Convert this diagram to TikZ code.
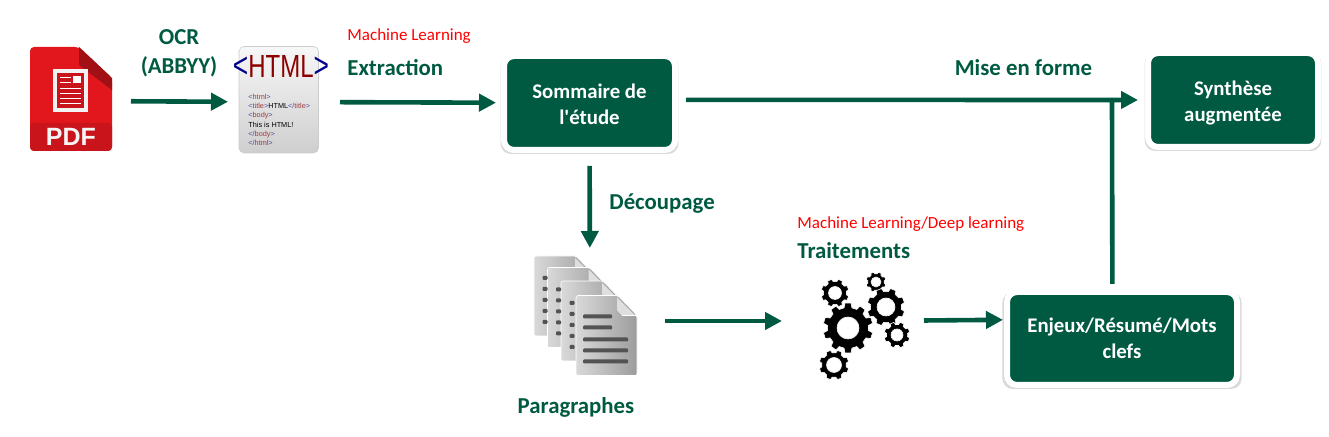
\documentclass[tikz,border=0pt]{standalone}
\usepackage{fontspec}
\setmainfont{Carlito}
\newfontfamily\droit{Carlito}
\newfontfamily\arialfont{Liberation Sans}
\usetikzlibrary{arrows.meta,shadows}
\definecolor{vert}{HTML}{005A41}
\definecolor{rougepdf}{HTML}{E2171D}
\definecolor{rougesombre}{HTML}{C8141A}
\definecolor{tagbleu}{HTML}{4A4AA8}
\definecolor{tagrouge}{HTML}{A03A3A}
\newcommand{\balise}[1]{{\color{tagbleu}<}{\color{tagrouge}#1}{\color{tagbleu}>}}
\newcommand{\fin}[1]{{\color{tagbleu}</}{\color{tagrouge}#1}{\color{tagbleu}>}}

\begin{document}
\begin{tikzpicture}
[x=.5pt,y=-.5pt]
\tikzset{boite/.style={rectangle,rounded corners=5pt,fill=vert,draw=white,line width=3pt,text=white,
		font=\fontsize{10.4}{13}\selectfont\bfseries,align=center,
		general shadow={shadow xshift=0pt,shadow yshift=-1pt,shadow scale=1.04,opacity=.15,fill=black}}}
\tikzset{icone/.style={rectangle,inner sep=0pt,outer sep=0pt}}
\tikzset{titre/.style={text=vert,inner sep=0pt,align=center,font=\fontsize{11.4}{14.5}\selectfont\bfseries}}
\tikzset{rouge/.style={text=red,inner sep=0pt,font=\fontsize{8.5}{10}\selectfont}}
\tikzset{fleche/.style={draw=vert,line width=2.3pt,-{Triangle[length=8.5pt,width=8.5pt]}}}
\tikzset{feuille/.style={left color=gray!30,right color=gray!78,draw=white,line width=.3pt,rounded corners=1pt}}
\useasboundingbox (0,0) rectangle (1329,437);

\node [icone,minimum width=41pt,minimum height=54pt] (pdf) at (71,101) {};
\node [icone,minimum width=40pt,minimum height=54pt] (html) at (279,102) {};
\node [icone,minimum width=47pt,minimum height=65pt] (pages) at (590,321) {};
\node [icone,minimum width=48pt,minimum height=50pt] (gears) at (863,321) {};
\node [boite,minimum width=85.5pt,minimum height=47pt] (sommaire) at (589.5,103) {\rule{0pt}{8.7pt}Sommaire de\\l{\droit\bfseries '}étude};
\node [boite,minimum width=85pt,minimum height=47pt] (synthese) at (1233,100) {\rule{0pt}{9.8pt}Synthèse\\augmentée};
\node [boite,minimum width=115pt,minimum height=46.5pt] (enjeux) at (1122,338.5) {Enjeux/Résumé/Mots\\clefs};
\coordinate (jonction) at (1112,100);

\node [titre] (ocr) at (179,53) {OCR\\(ABBYY)};
\node [titre,anchor=west] (extraction) at (347,68) {Extraction};
\node [rouge,anchor=west] (ml) at (347,36) {Machine Learning};
\node [titre] (miseenforme) at (1023.5,68) {Mise en forme};
\node [titre,anchor=west] (decoupage) at (609,204) {Découpage};
\node [rouge,anchor=west] (mldl) at (797,224) {Machine Learning/Deep learning};
\node [titre,anchor=west] (traitements) at (797,251) {Traitements};
\node [titre] (paragraphes) at (576,407) {Paragraphes};

% icone pdf
\fill [rougepdf,rounded corners=2pt] (30,47) -- (79,47) -- (112,78) -- (112,151) -- (30,151) -- cycle;
\fill [rougesombre,rounded corners=2pt] (30,123) -- (112,123) -- (112,151) -- (30,151) -- cycle;
\fill [rougesombre!80!black] (79,47) -- (112,78) -- (112,90) -- (79,65) -- cycle;
\fill [white!90!gray] (53,69) rectangle (88,112);
\fill [rougesombre] (57,73) rectangle (84,108);
\fill [white] (73,76) rectangle (81,83);
\foreach \ly in {77,82}
	\fill [white] (60,\ly) rectangle (71,\ly+1.5);
\foreach \ly in {88,93,98,103}
	\fill [white] (60,\ly) rectangle (81,\ly+1.5);
\node [inner sep=0pt,text=white!92!gray,font=\arialfont\fontsize{12.5}{14}\selectfont\bfseries] (pdftxt) at (71,137) {PDF};

% icone html
\shade [top color=gray!6,bottom color=gray!38,draw=gray!40,line width=.3pt,rounded corners=2.5pt] (239,46.5) rectangle (318.5,153);
\node [inner sep=0pt,xscale=.75,font=\arialfont\fontsize{16}{18}\selectfont] (htmltxt) at (281,66)
	{{\color{blue!55!black}\scalebox{1.1}{<}}{\color{red!55!black}HTML}{\color{blue!55!black}\scalebox{1.1}{>}}};
\node [inner sep=0pt,anchor=north west,align=left,font=\arialfont\fontsize{3.65}{4.67}\selectfont] (code) at (248,93.5)
	{\balise{html}\\\balise{title}HTML\fin{title}\\\balise{body}\\This is HTML!\\\fin{body}\\\fin{html}};

% icone pages
\foreach \px/\py in {534/256,547.5/267.5,561/281,576/295.5}
{
	\shade [feuille] (\px,\py) -- ++(42,0) -- ++(19,20) -- ++(0,60) -- ++(-61,0) -- cycle;
	\fill [gray!25] (\px+41,\py+2) -- (\px+59,\py+20) -- (\px+46,\py+20) -- (\px+41,\py+15) -- cycle;
	\fill [white] (\px+46,\py+19.5) rectangle (\px+61,\py+20.5);
}
\foreach \px/\py in {534/256,547.5/267.5,561/281}
	\foreach \dy in {22,33,44,55,66}
		\fill [gray!65!black,rounded corners=.5pt] (\px+8.5,\py+\dy-2) rectangle (\px+13.5,\py+\dy+2);
\foreach \dy/\dx in {21/29,32/29,44/45,55/45,66/45}
	\fill [gray!65!black,rounded corners=.5pt] (583,295.5+\dy-2) rectangle (583+\dx,295.5+\dy+2);

% icone engrenages
\foreach \cx/\cy/\ro/\ri/\nb in {835/293/14/6.5/8,834/365/15/7.5/8,876/282/10/5/8,886/307/19/9/8,897/335/13/6/8,848/328/25/11/10}
{
	\pgfmathsetmacro\rb{.82*\ro}
	\pgfmathsetmacro\wb{110/\nb}
	\pgfmathsetmacro\wt{70/\nb}
	\fill [black,draw=white,line width=.3pt,even odd rule,shift={(\cx,\cy)}] (0:\rb)
		\foreach \i [evaluate=\i as \a using 360*(\i-.5)/\nb] in {1,...,\nb}
			{-- ({\a-\wb}:\rb) -- ({\a-\wt}:\ro) -- ({\a+\wt}:\ro) -- ({\a+\wb}:\rb)}
		-- cycle (0,0) circle (\ri);
}

\foreach \from/\to/\ga/\gb in {pdf/html/9.5pt/5.5pt,html/sommaire/10.5pt/2.5pt,sommaire.2/synthese/4pt/3.5pt,sommaire/pages/6.5pt/4pt,pages/gears/14pt/16.5pt,gears/enjeux.171.35/6.5pt/.5pt}
	\draw [fleche,shorten <=\ga,shorten >=\gb] (\from) -- (\to);
\draw [draw=vert,line width=2.3pt,shorten <=2.5pt] (enjeux.101.5) -- (jonction);

\end{tikzpicture}
\end{document}
